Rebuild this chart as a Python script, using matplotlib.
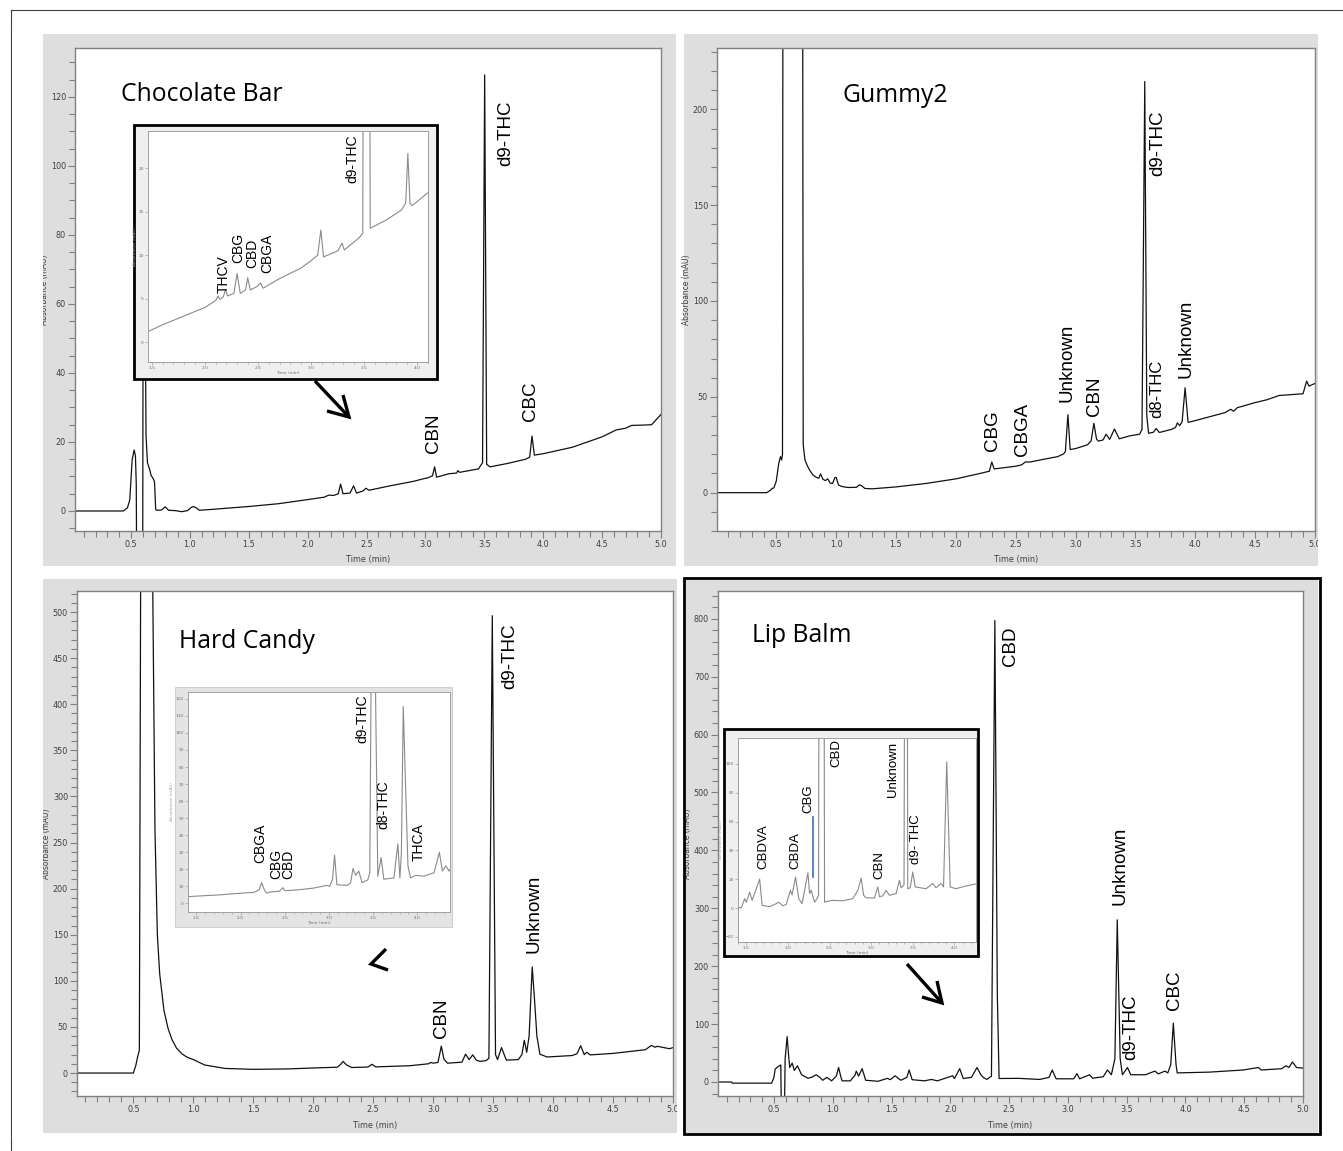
import matplotlib
matplotlib.use("Agg")
import matplotlib.pyplot as plt
from matplotlib.patches import Rectangle
from matplotlib.ticker import MultipleLocator, FormatStrFormatter

# ---- Chocolate Bar (main trace) ----
choc_t = [0.025, 0.435, 0.47, 0.49, 0.51, 0.527, 0.538, 0.545, 0.548, 0.60, 0.603, 0.615, 0.628, 0.64,
          0.66, 0.67, 0.69, 0.70, 0.71, 0.72, 0.76, 0.79, 0.82, 0.88, 0.93, 0.98, 1.01, 1.03, 1.06, 1.08,
          1.2, 1.5, 1.75, 2.0, 2.14, 2.18, 2.22, 2.26, 2.28, 2.30, 2.36, 2.39, 2.415, 2.47, 2.495, 2.52,
          2.7, 2.9, 2.99, 3.02, 3.06, 3.078, 3.095, 3.2, 3.265, 3.275, 3.29, 3.45, 3.485, 3.503, 3.52,
          3.55, 3.7, 3.85, 3.885, 3.905, 3.925, 4.0, 4.25, 4.5, 4.62, 4.7, 4.75, 4.85, 4.92, 4.96, 5.0]
choc_y = [0, 0, 0.9, 3.2, 14.8, 17.7, 16, 8, -12, -12, 60, 90, 22, 14,
          11.9, 10.4, 9.3, 8.5, 0.5, 0.2, 0.3, 1.2, 0.2, 0.1, -0.2, 0.1, 1.0, 1.3, 0.8, 0.2,
          0.5, 1.3, 2.1, 3.3, 4.0, 4.6, 4.5, 5.0, 7.8, 5.0, 5.2, 7.3, 5.2, 5.8, 6.6, 6.0,
          7.3, 8.6, 9.4, 9.6, 10.2, 12.8, 9.8, 10.8, 11.0, 11.7, 11.2, 12.2, 14, 126.4, 13.5,
          12.8, 13.8, 15.0, 15.6, 21.7, 16.2, 16.6, 18.5, 21.5, 23.5, 24.0, 24.8, 24.9, 25.0, 26.5, 28]
choc_labels = ["d9-THC", "CBN", "CBC"]
choc_label_t = [3.68, 3.07, 3.89]
choc_label_y = [100, 16.8, 26.1]

# ---- Chocolate Bar (inset) ----
chocin_t = [1.46, 1.6, 1.8, 2.0, 2.1, 2.12, 2.14, 2.17, 2.19, 2.21, 2.27, 2.30, 2.33, 2.38, 2.40, 2.425,
            2.49, 2.52, 2.545, 2.7, 2.9, 2.99, 3.02, 3.06, 3.09, 3.115, 3.25, 3.29, 3.31, 3.45, 3.485,
            3.49, 3.55, 3.555, 3.7, 3.85, 3.89, 3.91, 3.93, 3.95, 4.1]
chocin_y = [1.2, 2.0, 3.0, 4.0, 4.8, 5.3, 4.9, 5.2, 6.0, 5.3, 5.6, 7.9, 5.6, 6.0, 7.4, 6.0,
            6.4, 6.8, 6.2, 7.3, 8.5, 9.3, 9.6, 10.0, 12.9, 9.8, 10.5, 11.4, 10.6, 12.0, 12.5,
            40, 40, 13.1, 14.0, 15.2, 16.0, 21.7, 16.0, 15.7, 17.2]
chocin_labels = ["THCV", "CBG", "CBD", "CBGA", "d9-THC"]
chocin_label_t = [2.177, 2.31, 2.44, 2.58, 3.39]
chocin_label_y = [5.6, 9.1, 8.5, 7.9, 18.3]

# ---- Gummy2 ----
gum_t = [0.005, 0.42, 0.45, 0.465, 0.48, 0.50, 0.52, 0.535, 0.545, 0.552, 0.556, 0.72, 0.725, 0.74,
         0.76, 0.78, 0.81, 0.835, 0.855, 0.87, 0.89, 0.91, 0.93, 0.95, 0.97, 0.99, 1.0, 1.02, 1.05,
         1.1, 1.17, 1.195, 1.215, 1.24, 1.3, 1.5, 1.75, 2.0, 2.2, 2.28, 2.30, 2.32, 2.4, 2.5, 2.55,
         2.58, 2.62, 2.7, 2.85, 2.9, 2.915, 2.936, 2.955, 3.0, 3.1, 3.13, 3.153, 3.175, 3.19, 3.23,
         3.255, 3.285, 3.325, 3.365, 3.45, 3.535, 3.555, 3.578, 3.595, 3.61, 3.65, 3.673, 3.7, 3.8,
         3.835, 3.85, 3.87, 3.89, 3.915, 3.94, 4.0, 4.25, 4.295, 4.32, 4.35, 4.5, 4.6, 4.7, 4.9,
         4.93, 4.95, 5.0]
gum_y = [0, 0, 1.2, 2.2, 2.5, 6, 15, 18.8, 17, 20, 300, 300, 25, 17,
         14, 11.6, 9, 8, 7.5, 9.8, 7, 6.3, 7.2, 5, 4.8, 7.9, 8, 4, 3.2,
         2.7, 2.8, 4.1, 3.5, 2.2, 2.0, 3.0, 4.8, 7.2, 10, 11.2, 16, 12.4, 13, 13.8, 14.5,
         16, 16, 17, 18.8, 20.2, 21.5, 40.7, 22.5, 23, 25, 27, 36.2, 28, 26.9, 27.5,
         30.5, 27.8, 33.2, 28.1, 29.6, 30.5, 33, 214.5, 40, 31, 31.5, 33.5, 31.4, 33,
         34, 36.4, 35, 37, 54.7, 36.7, 37.6, 41.8, 43.5, 42.5, 44.3, 47, 48.5, 50.7, 51.6,
         58.2, 55.6, 57]
gum_labels = ["d9-THC", "d8-THC", "Unknown", "Unknown", "CBN", "CBGA", "CBG"]
gum_label_t = [3.69, 3.68, 3.925, 2.93, 3.157, 2.56, 2.31]
gum_label_y = [165, 39.2, 60, 47.5, 40.2, 19.3, 21.9]

# ---- Hard Candy (main trace) ----
hard_t = [0.03, 0.5, 0.52, 0.534, 0.55, 0.561, 0.66, 0.68, 0.70, 0.72, 0.755, 0.79, 0.823, 0.86,
          0.908, 0.95, 1.0, 1.095, 1.265, 1.5, 1.8, 2.0, 2.2, 2.225, 2.25, 2.275, 2.32, 2.455,
          2.49, 2.52, 2.8, 2.96, 2.98, 3.0, 3.04, 3.068, 3.09, 3.12, 3.24, 3.27, 3.30, 3.33, 3.36,
          3.39, 3.44, 3.465, 3.493, 3.52, 3.537, 3.57, 3.61, 3.71, 3.74, 3.76, 3.78, 3.80, 3.826,
          3.845, 3.865, 3.89, 3.95, 4.16, 4.2, 4.23, 4.26, 4.28, 4.31, 4.5, 4.77, 4.82, 4.85, 4.87,
          4.97, 5.0]
hard_y = [0, 0, 8, 16.6, 25, 550, 550, 265, 150, 107, 68, 48, 36, 27,
          20.5, 17, 14.6, 8.7, 5, 4.0, 4.5, 5.5, 6.3, 9, 12.6, 9, 6, 6.5,
          9.5, 6.7, 7.9, 10, 11.5, 10.7, 11.5, 29.2, 15, 10.7, 11.8, 20.5, 14.6, 19.7, 14,
          12.6, 13.5, 16, 496, 20, 14.6, 27.6, 14, 14.6, 20, 35.5, 22.5, 40, 115,
          80, 40, 20.5, 17.4, 19, 21, 29.6, 20, 22.5, 19.7, 21.3, 25.3, 30, 28, 29,
          26.4, 27.6]
hard_labels = ["d9-THC", "CBN", "Unknown"]
hard_label_t = [3.64, 3.07, 3.84]
hard_label_y = [417, 38, 130]

# ---- Hard Candy (inset) ----
hardin_t = [1.405, 1.5, 1.75, 1.973, 2.15, 2.21, 2.238, 2.27, 2.295, 2.333, 2.44, 2.477, 2.503, 2.65,
            2.825, 2.977, 3.007, 3.04, 3.064, 3.09, 3.204, 3.245, 3.272, 3.303, 3.337, 3.375, 3.439,
            3.462, 3.477, 3.526, 3.553, 3.591, 3.621, 3.735, 3.78, 3.803, 3.82, 3.841, 3.894, 3.924,
            3.981, 4.075, 4.189, 4.25, 4.284, 4.322, 4.36, 4.371]
hardin_y = [4, 4.3, 5, 5.9, 6.5, 8, 12.2, 8, 6, 6.7, 7.2, 9.3, 7.5, 8,
            9, 10.6, 10, 14, 28.3, 11, 10.6, 12, 20.5, 16.5, 19, 12.2, 13.8,
            18, 130, 130, 16, 27, 14.2, 15, 35, 15, 30, 115.5, 22, 15,
            16.5, 16, 18, 30, 19, 22, 19, 20]
hardin_labels = ["CBGA", "CBG", "CBD", "d9-THC", "d8-THC", "THCA"]
hardin_label_t = [2.227, 2.401, 2.541, 3.375, 3.62, 4.02]
hardin_label_y = [24, 14.6, 14.2, 93.9, 43.7, 25]

# ---- Lip Balm (main trace) ----
lip_t = [0.024, 0.14, 0.145, 0.48, 0.50, 0.51, 0.53, 0.547, 0.558, 0.562, 0.59, 0.595, 0.612, 0.625,
         0.634, 0.655, 0.673, 0.70, 0.735, 0.79, 0.83, 0.86, 0.89, 0.915, 0.95, 0.99, 1.03, 1.05,
         1.07, 1.08, 1.15, 1.19, 1.20, 1.22, 1.25, 1.27, 1.28, 1.385, 1.465, 1.49, 1.53, 1.58, 1.63,
         1.65, 1.675, 1.78, 1.84, 1.89, 2.02, 2.035, 2.08, 2.11, 2.18, 2.227, 2.26, 2.28, 2.31, 2.35,
         2.379, 2.40, 2.415, 2.578, 2.76, 2.84, 2.867, 2.9, 3.05, 3.077, 3.1, 3.185, 3.21, 3.3, 3.337,
         3.37, 3.40, 3.42, 3.445, 3.464, 3.507, 3.535, 3.66, 3.74, 3.77, 3.825, 3.85, 3.875, 3.897,
         3.92, 3.93, 4.2, 4.49, 4.62, 4.645, 4.82, 4.855, 4.88, 4.91, 4.945, 5.0]
lip_y = [0, 0, -2, -2, 8, 22, 26, 28, 29.5, -40, -40, 40, 78.4, 45,
         25, 32.6, 20, 28, 12.5, 6.3, 9, 12.5, 8, 3, 8, 2, 10, 25,
         8, 2, 2, 12, 18.8, 10, 23, 10, 3, 1.2, 6.3, 4, 10.7, 3, 8,
         20.7, 4, 2, 4.4, 2, 10.7, 6, 23, 6, 8, 25, 12.5, 8, 4.4, 10,
         797, 150, 6, 6.3, 4.4, 8, 20.7, 5.5, 5.5, 14.4, 5.5, 12.5, 6.5, 9, 20.7,
         12.5, 40, 280, 40, 12.5, 25, 12.5, 12.5, 18.8, 14, 18.8, 15.7, 30, 101.6,
         30, 15.7, 17, 20.7, 25, 20.7, 23, 28, 25, 34.5, 25, 24]
lip_labels = ["CBD", "Unknown", "d9-THC", "CBC"]
lip_label_t = [2.515, 3.44, 3.535, 3.91]
lip_label_y = [718, 306, 38, 124]

# ---- Lip Balm (inset) ----
lipin_t = [1.4, 1.44, 1.48, 1.5, 1.54, 1.57, 1.66, 1.69, 1.78, 1.84, 1.89, 1.94, 1.98, 2.03, 2.05,
           2.092, 2.13, 2.17, 2.24, 2.26, 2.28, 2.32, 2.35, 2.368, 2.372, 2.436, 2.44, 2.46, 2.54,
           2.66, 2.78, 2.84, 2.88, 2.91, 2.94, 3.04, 3.08, 3.1, 3.14, 3.18, 3.22, 3.3, 3.34, 3.36,
           3.395, 3.40, 3.436, 3.44, 3.47, 3.5, 3.53, 3.66, 3.74, 3.78, 3.84, 3.87, 3.908, 3.95,
           4.02, 4.14, 4.26]
lipin_y = [0.7, 0, 6.5, 4, 11, 5.3, 20, 1.8, 1, 2.5, 4, 1.5, 2.5, 12.3, 9,
           21.5, 6.5, 3, 24.5, 10, 12.3, 4, 6.5, 9, 130, 130, 4, 4.5, 5.3,
           5, 6.5, 12.3, 20.8, 8.8, 7, 7, 14.6, 7.8, 8.5, 12.3, 8.8, 10, 19.2, 14,
           16, 130, 130, 13.4, 14, 25, 14.6, 13.4, 17, 14, 17, 14.6, 101.4, 14.6,
           13.4, 15.3, 16.7]
lipin_labels = ["CBDVA", "CBDA", "CBG", "CBD", "Unknown", "CBN", "d9- THC"]
lipin_label_t = [1.70, 2.09, 2.25, 2.58, 3.26, 3.10, 3.54]
lipin_label_y = [27.3, 27.3, 66, 98, 77, 20.4, 30.8]

W, H = 1343, 1151
fig = plt.figure(figsize=(W / 100, H / 100), dpi=100)

TICK_FONT = ['DejaVu Sans']
LABEL_FONT = ['Liberation Sans', 'DejaVu Sans']
TITLE_FONT = ['Open Sans', 'DejaVu Sans']
PANEL_GRAY = '#dedede'
SPINE = '#808080'


def box(l, t, r, b):
    return [l / W, 1 - b / H, (r - l) / W, (b - t) / H]


def pixel_axes(z):
    a = fig.add_axes([0, 0, 1, 1], zorder=z)
    a.set_xlim(0, W)
    a.set_ylim(H, 0)
    a.patch.set_alpha(0)
    a.axis('off')
    return a


bg = pixel_axes(0)
for (l, t, r, b) in [(43, 34, 676, 566), (684, 34, 1318, 566), (43, 579, 677, 1133), (684, 579, 1318, 1133)]:
    bg.add_patch(Rectangle((l, t), r - l, b - t, facecolor=PANEL_GRAY, edgecolor='none'))
bg.plot([11, 11], [10, H], color='#404040', lw=0.8)
bg.plot([11, W], [10, 10], color='#404040', lw=0.8)


def panel(rect, xlim, ylim, ymaj, ymin, t, y, title, title_pos, labels, lt, ly, ylab_px, xlab_px):
    l, tp, r, b = rect
    ax = fig.add_axes(box(*rect), zorder=1)
    ax.plot(t, y, color='#111111', lw=0.9)
    ax.set_xlim(xlim)
    ax.set_ylim(ylim)
    ax.xaxis.set_major_locator(MultipleLocator(0.5))
    ax.xaxis.set_minor_locator(MultipleLocator(0.1))
    ax.xaxis.set_major_formatter(FormatStrFormatter('%.1f'))
    ax.yaxis.set_major_locator(MultipleLocator(ymaj))
    ax.yaxis.set_minor_locator(MultipleLocator(ymin))
    for s in ax.spines.values():
        s.set_color(SPINE)
        s.set_linewidth(1.0)
    ax.tick_params(which='major', length=5, width=0.8, color=SPINE, labelsize=6.5,
                   labelcolor='#404040', pad=1.5)
    ax.tick_params(which='minor', length=4, width=0.8, color=SPINE)
    for lab in ax.get_xticklabels() + ax.get_yticklabels():
        lab.set_family(TICK_FONT)
        lab.set_fontstretch('condensed')
    ax.set_xlabel('Time (min)', fontsize=6.5, color='#404040', family=TICK_FONT, fontstretch='condensed')
    ax.set_ylabel('Absorbance (mAU)', fontsize=6, color='#404040', family=TICK_FONT, fontstretch='condensed')
    ax.xaxis.set_label_coords(0.5, -(xlab_px - b) / (b - tp))
    ax.yaxis.set_label_coords((ylab_px - l) / (r - l), 0.5)
    ax.text(title_pos[0], title_pos[1], title, fontsize=17.8, family=TITLE_FONT, va='center', ha='left')
    for s, xx, yy in zip(labels, lt, ly):
        fs = 12 if (s == 'd8-THC') else 13.5
        ax.text(xx, yy, s, rotation=90, ha='center', va='bottom', fontsize=fs, family=LABEL_FONT)
    return ax


panel((75, 48, 661, 531), (0.025, 5.0), (-5.8, 134.2), 20, 5, choc_t, choc_y,
      'Chocolate Bar', (0.417, 120.6), choc_labels, choc_label_t, choc_label_y, 49, 555)
panel((717, 48, 1315, 531), (0.005, 5.0), (-20, 232), 50, 10, gum_t, gum_y,
      'Gummy2', (1.05, 207), gum_labels, gum_label_t, gum_label_y, 691, 555)
panel((77, 591, 673, 1096), (0.03, 5.0), (-24.9, 522.8), 50, 10, hard_t, hard_y,
      'Hard Candy', (0.884, 468.5), hard_labels, hard_label_t, hard_label_y, 51, 1121)
panel((718, 591, 1303, 1096), (0.024, 5.0), (-24.2, 848), 100, 20, lip_t, lip_y,
      'Lip Balm', (0.313, 772), lip_labels, lip_label_t, lip_label_y, 692, 1121)

mid = pixel_axes(2)
# inset frames
mid.add_patch(Rectangle((134, 125), 303, 254, facecolor='#efefef', edgecolor='black', lw=2.0))
mid.add_patch(Rectangle((175, 687), 277, 240, facecolor='#e4e4e4', edgecolor='#cfcfcf', lw=0.8))
mid.add_patch(Rectangle((724, 729), 254, 227, facecolor='#efefef', edgecolor='black', lw=2.0))
# arrows
arrow_kw = dict(color='black', lw=2.4, solid_capstyle='butt', solid_joinstyle='miter')
mid.plot([315, 349], [381, 417], **arrow_kw)
mid.plot([327, 349, 343], [411, 417, 395], **arrow_kw)
mid.plot([386, 371, 388], [949, 964, 970], **arrow_kw)
mid.plot([907, 942], [964, 1003], **arrow_kw)
mid.plot([922, 942, 937], [997, 1003, 981], **arrow_kw)


def inset(rect, xlim, ylim, ymaj, t, y, labels, lt, ly, fs=10):
    ax = fig.add_axes(box(*rect), zorder=3)
    ax.plot(t, y, color='#8a8a8a', lw=0.8)
    ax.set_xlim(xlim)
    ax.set_ylim(ylim)
    ax.xaxis.set_major_locator(MultipleLocator(0.5))
    ax.xaxis.set_minor_locator(MultipleLocator(0.1))
    ax.xaxis.set_major_formatter(FormatStrFormatter('%.1f'))
    ax.yaxis.set_major_locator(MultipleLocator(ymaj))
    for s in ax.spines.values():
        s.set_color('#a0a0a0')
        s.set_linewidth(0.7)
    ax.tick_params(which='both', length=2, width=0.5, color='#a0a0a0', labelsize=3.2,
                   labelcolor='#707070', pad=1)
    ax.tick_params(which='minor', length=1.5)
    ax.set_xlabel('Time (min)', fontsize=3.2, color='#707070', labelpad=0.5)
    ax.set_ylabel('Absorbance (mAU)', fontsize=3.0, color='#a0a0a0', labelpad=1)
    for s, xx, yy in zip(labels, lt, ly):
        ax.text(xx, yy, s, rotation=90, ha='center', va='bottom', fontsize=fs, family=LABEL_FONT)
    return ax


inset((148, 131, 428, 362), (1.46, 4.1), (-2.3, 24.3), 5, chocin_t, chocin_y,
      chocin_labels, chocin_label_t, chocin_label_y)
inset((188, 692, 450, 912), (1.405, 4.37), (-5, 124), 10, hardin_t, hardin_y,
      hardin_labels, hardin_label_t, hardin_label_y)
lax = inset((738, 738, 976, 942), (1.4, 4.26), (-23.6, 118), 20, lipin_t, lipin_y,
            lipin_labels, lipin_label_t, lipin_label_y, fs=9.5)
lax.plot([2.3, 2.3], [21.5, 63.2], color='#3a6fb0', lw=1.2)

top = pixel_axes(4)
top.add_patch(Rectangle((1318, 30), 30, 540, facecolor='white', edgecolor='none'))
top.add_patch(Rectangle((677, 575), 6.5, 560, facecolor='white', edgecolor='none'))
top.add_patch(Rectangle((12, 30), 31, 1110, facecolor='white', edgecolor='none'))
top.add_patch(Rectangle((684, 578), 636, 556, facecolor='none', edgecolor='black', lw=2.0))

fig.savefig('out.png', dpi=100)
